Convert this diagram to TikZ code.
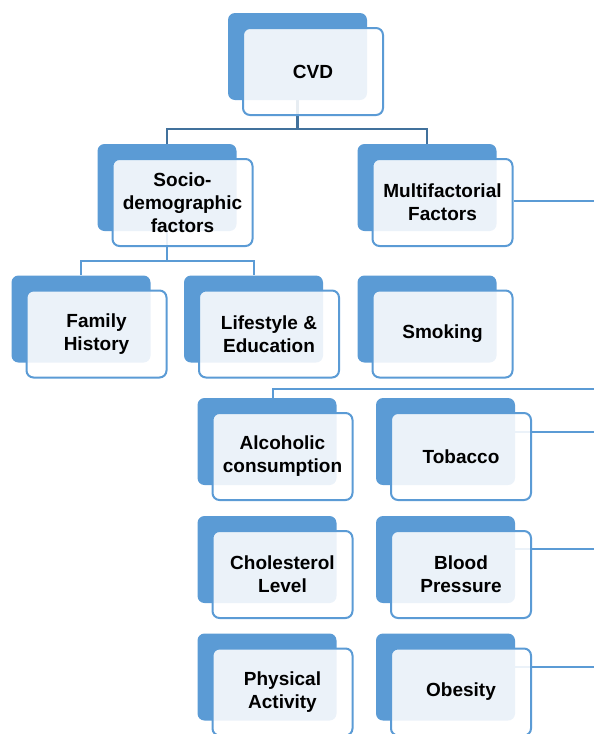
\documentclass[tikz,border=0pt]{standalone}
\usepackage{fontspec}
\setmainfont{Liberation Sans}
\usepackage{tikz}
\usetikzlibrary{backgrounds}
\definecolor{boxblue}{HTML}{5B9BD5}
\definecolor{barblue}{HTML}{41719C}
\newcommand{\riskbox}[4]{%
  \node (#1b) at (#2,#3) [backbox] {};
  \node (#1)  at (#2,#3) [frontbox] {#4};
}

\begin{document}
\begin{tikzpicture}[x=1pt, y=-1pt,
    backbox/.style={rectangle, rounded corners=7pt, fill=boxblue, minimum width=139pt, minimum height=87pt, inner sep=0pt},
    frontbox/.style={rectangle, rounded corners=7pt, draw=boxblue, line width=2pt, fill=white, fill opacity=0.88, text opacity=1,
                     minimum width=140pt, minimum height=87pt, inner sep=0pt, align=center,
                     font=\fontsize{19}{23}\selectfont\bfseries, shift={(15.5,15)}},
    link/.style={draw=boxblue, line width=2pt},
    toplink/.style={draw=barblue, line width=2.5pt}]
    \useasboundingbox (0,0) rectangle (594,734);
    \riskbox{cvd}{297.5}{56.5}{CVD}
    \riskbox{socio}{167}{187.5}{Socio-\\demographic\\factors}
    \riskbox{multi}{427}{187.5}{Multifactorial\\Factors}
    \riskbox{family}{81}{319}{Family\\History}
    \riskbox{life}{253.5}{319}{Lifestyle \&\\Education}
    \riskbox{smoking}{427}{319}{Smoking}
    \riskbox{alcohol}{267}{441.5}{Alcoholic\\consumption}
    \riskbox{tobacco}{445.5}{441.5}{Tobacco}
    \riskbox{chol}{267}{559.5}{Cholesterol\\Level}
    \riskbox{blood}{445.5}{559.5}{Blood\\Pressure}
    \riskbox{activity}{267}{677}{Physical\\Activity}
    \riskbox{obesity}{445.5}{677}{Obesity}
    % loose ends at the right margin
    \coordinate (multiend) at (594,201);
    \coordinate (alcoholend) at (594,389);
    \coordinate (tobaccoend) at (594,432);
    \coordinate (bloodend) at (594,549);
    \coordinate (obesityend) at (594,667);
    \begin{scope}[on background layer]
        \draw[toplink] (cvdb.south) -- ++(0,29) coordinate (cvdbar) -| (sociob.north) (cvdbar) -| (multib.north);
        \draw[link] (sociob.south) -- ++(0,30) coordinate (sociobar) -| (familyb.north) (sociobar) -| (lifeb.north);
        \draw[link] (multiend -| multi.east) -- (multiend);
        \draw[link] ([xshift=6pt]alcoholb.north) |- (alcoholend);
        \draw[link] (tobaccoend -| tobaccob.east) -- (tobaccoend);
        \draw[link] (bloodend -| bloodb.east) -- (bloodend);
        \draw[link] (obesityend -| obesityb.east) -- (obesityend);
    \end{scope}
\end{tikzpicture}
\end{document}
